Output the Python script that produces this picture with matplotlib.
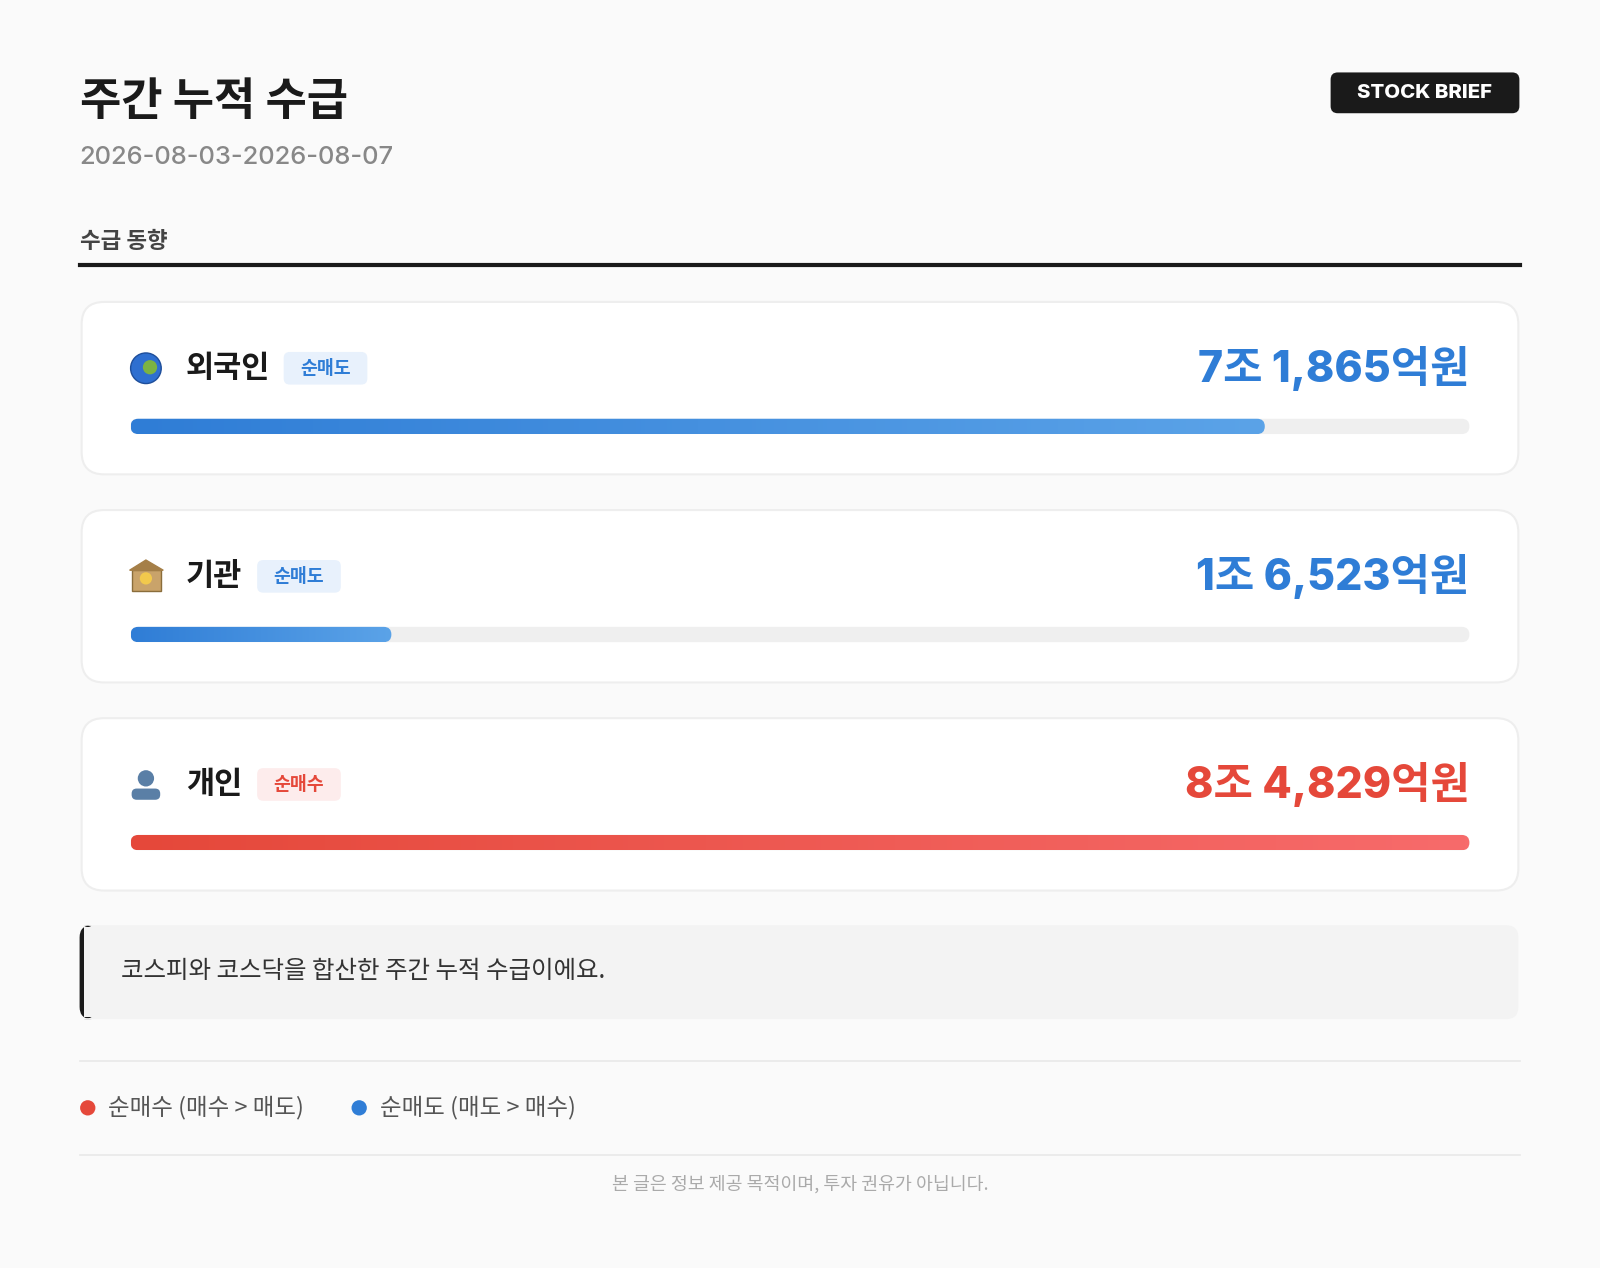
import matplotlib
matplotlib.use("Agg")
import matplotlib.pyplot as plt
import numpy as np
from matplotlib.patches import FancyBboxPatch, Circle, Rectangle
from matplotlib.colors import LinearSegmentedColormap

plt.rcParams['font.family'] = ['Noto Sans CJK KR', 'DejaVu Sans']

title = "주간 누적 수급"
period = "2026-08-03-2026-08-07"
section = "수급 동향"
investors = ["외국인", "기관", "개인"]
badges = ["순매도", "순매도", "순매수"]
values = [71865, 16523, 84829]  # 억원
labels = ["7조 1,865억원", "1조 6,523억원", "8조 4,829억원"]
note = "코스피와 코스닥을 합산한 주간 누적 수급이에요."
legend_items = ["순매수 (매수 > 매도)", "순매도 (매도 > 매수)"]
footer = "본 글은 정보 제공 목적이며, 투자 권유가 아닙니다."

W, H = 1568, 1243
fig = plt.figure(figsize=(16, 12.68), dpi=100)
fig.patch.set_facecolor('#FAFAFA')
ax = fig.add_axes([0, 0, 1, 1])
ax.set_xlim(0, W); ax.set_ylim(H, 0); ax.axis('off')
S = 0.72 * 1600 / 1568  # px -> pt

ax.text(78, 100, title, fontsize=44*S, fontweight='heavy', color='#1A1A1A', va='center')
ax.text(78, 154, period, fontsize=25*S, fontweight='medium', color='#888888', va='center',
        family=['Inter', 'DejaVu Sans'])
ax.add_patch(FancyBboxPatch((1304, 71), 185, 40, boxstyle="round,pad=0,rounding_size=7",
                            fc='#1A1A1A', ec='none'))
ax.text(1396, 91, "STOCK BRIEF", fontsize=20*S, fontweight='heavy', color='white',
        ha='center', va='center', family=['Inter', 'DejaVu Sans'])
ax.text(78, 237, section, fontsize=22*S, fontweight='bold', color='#444444', va='center')
ax.plot([78, 1490], [260, 260], color='#1A1A1A', lw=3)

blue = '#2F7DD6'; red = '#E5483A'
cm_blue = LinearSegmentedColormap.from_list('b', ['#2F7DD6', '#5BA3E8'])
cm_red = LinearSegmentedColormap.from_list('r', ['#E5483A', '#F76B6B'])
vmax = max(values)
tx0, tx1 = 128, 1440
for i, (name, badge, v, lab) in enumerate(zip(investors, badges, values, labels)):
    top = 296 + i * 204
    ax.add_patch(FancyBboxPatch((80, top), 1408, 169, boxstyle="round,pad=0,rounding_size=22",
                                fc='white', ec='#EEEEEE', lw=1.5))
    cy = top + 65
    buy = badge == "순매수"
    col = red if buy else blue
    if i == 0:
        ax.add_patch(Circle((143, cy), 15, fc='#2E6FD0', ec='#1E4E9A', lw=1))
        ax.add_patch(Circle((147, cy - 1), 7, fc='#7BB342', ec='none'))
    elif i == 1:
        ax.add_patch(Rectangle((129, cy - 6), 29, 20, fc='#C9A36A', ec='#8A6D3B'))
        ax.fill([127, 143, 160], [cy - 6, cy - 16, cy - 6], color='#A57F48')
        ax.add_patch(Circle((143, cy + 2), 6, fc='#F2C94C', ec='none'))
    else:
        ax.add_patch(Circle((143, cy - 6), 8, fc='#5A7FA6', ec='none'))
        ax.add_patch(FancyBboxPatch((129, cy + 4), 28, 11, boxstyle="round,pad=0,rounding_size=5",
                                    fc='#5A7FA6', ec='none'))
    ax.text(182, cy, name, fontsize=30*S, fontweight='heavy', color='#1A1A1A', va='center')
    nw = [82, 56, 56][i]
    bx = 182 + nw + 14
    ax.add_patch(FancyBboxPatch((bx, cy - 16), 82, 32, boxstyle="round,pad=0,rounding_size=6",
                                fc='#FDECEC' if buy else '#E8F1FC', ec='none'))
    ax.text(bx + 41, cy, badge, fontsize=18*S, fontweight='bold', color=col, ha='center', va='center')
    ax.text(1440, cy, lab, fontsize=42*S, fontweight='heavy', color=col, ha='right', va='center',
            family=['Inter', 'Noto Sans CJK KR'])
    by = top + 122
    ax.add_patch(FancyBboxPatch((tx0, by - 7.5), tx1 - tx0, 15, boxstyle="round,pad=0,rounding_size=7.5",
                                fc='#EFEFEF', ec='none'))
    fx1 = tx0 + (tx1 - tx0) * v / vmax
    clip = FancyBboxPatch((tx0, by - 7.5), fx1 - tx0, 15, boxstyle="round,pad=0,rounding_size=7.5",
                          fc='none', ec='none')
    ax.add_patch(clip)
    im = ax.imshow(np.linspace(0, 1, 256).reshape(1, -1), cmap=cm_red if buy else cm_blue,
                   extent=(tx0, fx1, by + 7.5, by - 7.5), aspect='auto', zorder=3)
    im.set_clip_path(clip)

ax.add_patch(FancyBboxPatch((80, 907), 1408, 92, boxstyle="round,pad=0,rounding_size=12",
                            fc='#F3F3F3', ec='none'))
ax.add_patch(FancyBboxPatch((78, 907), 16, 92, boxstyle="round,pad=0,rounding_size=12",
                            fc='#1A1A1A', ec='none'))
ax.add_patch(Rectangle((82, 909), 14, 88, fc='#F3F3F3', ec='none'))
ax.text(119, 952, note, fontsize=24*S, fontweight='medium', color='#333333', va='center')

ax.plot([78, 1490], [1040, 1040], color='#E8E8E8', lw=1.2)
ax.add_patch(Circle((86, 1086), 7.5, fc=red, ec='none'))
ax.text(106, 1086, legend_items[0], fontsize=23*S, fontweight='medium', color='#555555', va='center')
ax.add_patch(Circle((352, 1086), 7.5, fc=blue, ec='none'))
ax.text(372, 1086, legend_items[1], fontsize=23*S, fontweight='medium', color='#555555', va='center')
ax.plot([78, 1490], [1132, 1132], color='#E8E8E8', lw=1.2)
ax.text(784, 1161, footer, fontsize=18*S, color='#AAAAAA', ha='center', va='center')

fig.savefig('out.png', dpi=100, facecolor=fig.get_facecolor())
